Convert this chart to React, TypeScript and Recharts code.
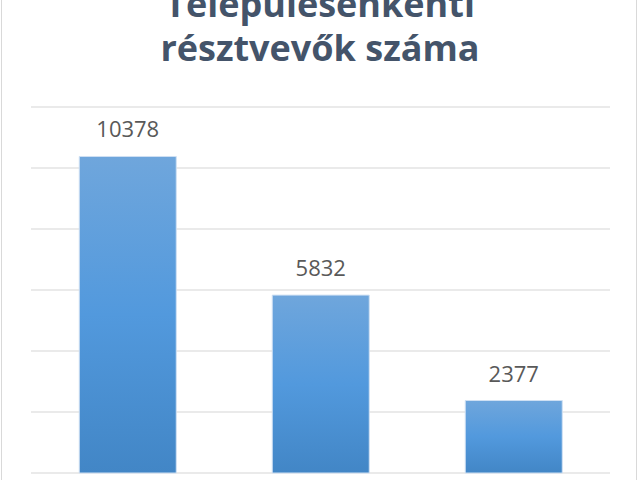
import React from "react";
import { Bar, BarChart, CartesianGrid, LabelList, XAxis, YAxis } from "recharts";

const categories = ["1. település", "2. település", "3. település"];
const participants = [10378, 5832, 2377];
const yTicks = [0, 2000, 4000, 6000, 8000, 10000, 12000];

const data = categories.map((name, i) => ({ name, value: participants[i] }));

const titleStyle: React.CSSProperties = {
  position: "absolute",
  left: 0,
  width: 640,
  textAlign: "center",
  fontFamily: "'Open Sans', sans-serif",
  fontWeight: 700,
  fontSize: 36,
  color: "#44546a",
  lineHeight: "44px",
  whiteSpace: "nowrap",
};

export default function App() {
  return (
    <div
      style={{
        position: "fixed",
        top: 0,
        left: 0,
        width: 640,
        height: 480,
        overflow: "hidden",
        background: "#fff",
      }}
    >
      <div
        style={{
          position: "absolute",
          left: 1,
          top: -10,
          width: 636,
          height: 500,
          border: "1px solid #d9d9d9",
          boxSizing: "border-box",
        }}
      />
      <div style={{ ...titleStyle, top: -18 }}>Településenkénti</div>
      <div style={{ ...titleStyle, top: 26 }}>résztvevők száma</div>
      <div style={{ position: "absolute", left: 0, top: 0 }}>
        <BarChart
          width={640}
          height={480}
          data={data}
          margin={{ top: 107, right: 30, bottom: 7, left: 31 }}
          barCategoryGap="25%"
        >
          <defs>
            <linearGradient id="barFill" x1="0" y1="0" x2="0" y2="1">
              <stop offset="0%" stopColor="#6fa6dc" />
              <stop offset="50%" stopColor="#5299dd" />
              <stop offset="100%" stopColor="#4286c6" />
            </linearGradient>
          </defs>
          <CartesianGrid vertical={false} stroke="#e3e3e3" strokeWidth={1.5} />
          <XAxis dataKey="name" hide />
          <YAxis hide domain={[0, 12000]} ticks={yTicks} />
          <Bar
            dataKey="value"
            fill="url(#barFill)"
            stroke="#cfe0f3"
            strokeWidth={1}
            isAnimationActive={false}
          >
            <LabelList
              dataKey="value"
              position="top"
              offset={19}
              fill="#595959"
              fontSize={22}
              fontFamily="'Open Sans', sans-serif"
            />
          </Bar>
        </BarChart>
      </div>
    </div>
  );
}
